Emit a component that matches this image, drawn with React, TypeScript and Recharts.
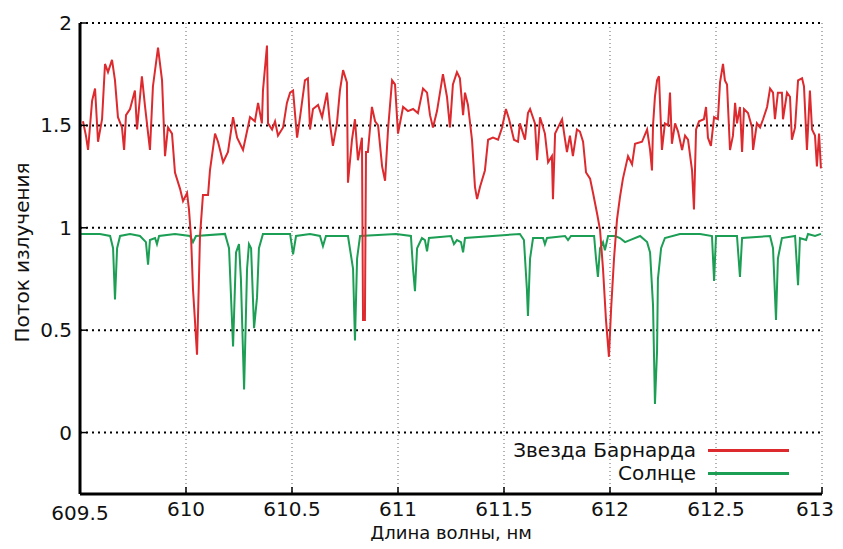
import { LineChart, Line, XAxis, YAxis, CartesianGrid, Legend } from "recharts";

// wavelength (nm) / flux for Barnard's star
const barnardX = [
  609.514, 609.528, 609.538, 609.557, 609.571, 609.585, 609.604, 609.618, 609.632, 609.651,
  609.665, 609.679, 609.698, 609.708, 609.717, 609.736, 609.759, 609.769, 609.792, 609.807,
  609.83, 609.844, 609.868, 609.887, 609.901, 609.915, 609.934, 609.948, 609.972, 609.986,
  610.005, 610.014, 610.024, 610.033, 610.042, 610.052, 610.061, 610.066, 610.08, 610.104,
  610.113, 610.137, 610.151, 610.175, 610.198, 610.222, 610.241, 610.269, 610.302, 610.325,
  610.34, 610.358, 610.363, 610.382, 610.387, 610.406, 610.42, 610.434, 610.458, 610.476,
  610.491, 610.505, 610.514, 610.524, 610.538, 610.561, 610.575, 610.585, 610.599, 610.623,
  610.642, 610.665, 610.679, 610.693, 610.712, 610.726, 610.741, 610.759, 610.764, 610.783,
  610.797, 610.811, 610.83, 610.835, 610.844, 610.849, 610.858, 610.877, 610.892, 610.906,
  610.925, 610.939, 610.953, 610.972, 610.986, 611.0, 611.024, 611.047, 611.071, 611.094,
  611.118, 611.137, 611.151, 611.165, 611.184, 611.212, 611.231, 611.245, 611.259, 611.278,
  611.292, 611.307, 611.316, 611.33, 611.349, 611.363, 611.373, 611.387, 611.41, 611.425,
  611.448, 611.472, 611.491, 611.509, 611.524, 611.547, 611.566, 611.575, 611.599, 611.613,
  611.623, 611.646, 611.656, 611.67, 611.693, 611.708, 611.726, 611.731, 611.741, 611.755,
  611.774, 611.788, 611.797, 611.811, 611.825, 611.844, 611.858, 611.873, 611.887, 611.906,
  611.92, 611.939, 611.953, 611.967, 611.981, 611.995, 612.005, 612.019, 612.033, 612.047,
  612.061, 612.085, 612.104, 612.118, 612.151, 612.175, 612.189, 612.198, 612.203, 612.212,
  612.222, 612.231, 612.241, 612.245, 612.259, 612.274, 612.283, 612.292, 612.307, 612.321,
  612.34, 612.354, 612.368, 612.387, 612.396, 612.406, 612.42, 612.443, 612.453, 612.462,
  612.476, 612.491, 612.509, 612.519, 612.533, 612.542, 612.552, 612.566, 612.58, 612.59,
  612.599, 612.613, 612.623, 612.632, 612.651, 612.67, 612.675, 612.693, 612.708, 612.722,
  612.741, 612.755, 612.769, 612.778, 612.792, 612.811, 612.816, 612.835, 612.849, 612.858,
  612.873, 612.887, 612.906, 612.915, 612.929, 612.943, 612.953, 612.967, 612.976, 612.986,
  612.995,
];
const barnardY = [
  1.52, 1.45, 1.38, 1.62, 1.68, 1.42, 1.53, 1.8, 1.76, 1.82,
  1.72, 1.54, 1.49, 1.38, 1.55, 1.58, 1.67, 1.48, 1.74, 1.59,
  1.38, 1.69, 1.88, 1.72, 1.35, 1.49, 1.46, 1.27, 1.19, 1.13,
  1.17, 1.09, 0.95, 0.7, 0.55, 0.38, 0.75, 0.96, 1.16, 1.16,
  1.28, 1.46, 1.42, 1.32, 1.37, 1.54, 1.44, 1.38, 1.54, 1.52,
  1.61, 1.51, 1.67, 1.89, 1.51, 1.48, 1.52, 1.45, 1.49, 1.61,
  1.66, 1.67, 1.56, 1.44, 1.54, 1.72, 1.73, 1.48, 1.58, 1.6,
  1.54, 1.66, 1.51, 1.4, 1.51, 1.67, 1.77, 1.71, 1.22, 1.43,
  1.53, 1.33, 1.44, 0.55, 0.55, 1.37, 1.37, 1.59, 1.52, 1.5,
  1.3, 1.23, 1.48, 1.72, 1.7, 1.46, 1.59, 1.57, 1.58, 1.56,
  1.68, 1.66, 1.55, 1.49, 1.57, 1.75, 1.64, 1.49, 1.7, 1.76,
  1.73, 1.55, 1.66, 1.6, 1.43, 1.2, 1.14, 1.2, 1.28, 1.43,
  1.44, 1.43, 1.49, 1.58, 1.53, 1.43, 1.42, 1.51, 1.43, 1.56,
  1.58, 1.51, 1.33, 1.54, 1.46, 1.32, 1.35, 1.14, 1.46, 1.49,
  1.53, 1.43, 1.37, 1.45, 1.35, 1.48, 1.47, 1.42, 1.27, 1.24,
  1.17, 1.07, 0.99, 0.8, 0.55, 0.37, 0.6, 0.85, 1.04, 1.15,
  1.24, 1.35, 1.31, 1.41, 1.42, 1.48, 1.38, 1.28, 1.5, 1.64,
  1.72, 1.74, 1.48, 1.38, 1.51, 1.5, 1.66, 1.41, 1.51, 1.47,
  1.38, 1.45, 1.43, 1.28, 1.09, 1.48, 1.52, 1.53, 1.59, 1.44,
  1.4, 1.54, 1.53, 1.71, 1.8, 1.72, 1.7, 1.38, 1.45, 1.61,
  1.51, 1.59, 1.37, 1.58, 1.56, 1.49, 1.38, 1.51, 1.49, 1.53,
  1.59, 1.68, 1.66, 1.53, 1.66, 1.66, 1.53, 1.66, 1.64, 1.43,
  1.49, 1.72, 1.73, 1.69, 1.38, 1.67, 1.48, 1.45, 1.3, 1.46,
  1.29,
];

// wavelength (nm) / flux for the Sun
const sunX = [
  609.505, 609.594, 609.642, 609.656, 609.665, 609.675, 609.689, 609.736, 609.783, 609.811,
  609.821, 609.83, 609.854, 609.863, 609.873, 609.948, 610.019, 610.033, 610.047, 610.184,
  610.203, 610.222, 610.236, 610.25, 610.259, 610.274, 610.288, 610.297, 610.307, 610.321,
  610.335, 610.344, 610.363, 610.491, 610.505, 610.519, 610.585, 610.632, 610.646, 610.66,
  610.764, 610.788, 610.797, 610.807, 610.821, 610.991, 611.061, 611.071, 611.08, 611.09,
  611.113, 611.127, 611.137, 611.146, 611.25, 611.264, 611.278, 611.297, 611.307, 611.316,
  611.575, 611.594, 611.608, 611.613, 611.623, 611.637, 611.684, 611.693, 611.703, 611.788,
  611.802, 611.816, 611.925, 611.934, 611.943, 611.953, 611.967, 611.976, 611.991, 612.024,
  612.047, 612.071, 612.094, 612.142, 612.175, 612.189, 612.203, 612.212, 612.222, 612.226,
  612.241, 612.259, 612.33, 612.425, 612.481, 612.491, 612.5, 612.599, 612.613, 612.623,
  612.755, 612.769, 612.783, 612.792, 612.811, 612.873, 612.887, 612.896, 612.925, 612.934,
  612.967, 612.995,
];
const sunY = [
  0.97, 0.97, 0.96, 0.9, 0.65, 0.9, 0.96, 0.97, 0.96, 0.93,
  0.82, 0.94, 0.95, 0.92, 0.96, 0.97, 0.96, 0.93, 0.96, 0.97,
  0.9, 0.42, 0.88, 0.92, 0.75, 0.21, 0.8, 0.92, 0.9, 0.51,
  0.66, 0.9, 0.97, 0.97, 0.87, 0.96, 0.97, 0.96, 0.91, 0.96,
  0.96, 0.8, 0.45, 0.85, 0.96, 0.97, 0.96, 0.8, 0.69, 0.9,
  0.95, 0.94, 0.885, 0.95, 0.96, 0.92, 0.94, 0.93, 0.88, 0.95,
  0.97, 0.94, 0.7, 0.57, 0.85, 0.95, 0.95, 0.92, 0.95, 0.96,
  0.94, 0.96, 0.96, 0.85, 0.76, 0.9, 0.93, 0.89, 0.96, 0.96,
  0.95, 0.93, 0.94, 0.96, 0.93, 0.88, 0.62, 0.14, 0.4, 0.75,
  0.9, 0.95, 0.97, 0.97, 0.96, 0.74, 0.96, 0.96, 0.76, 0.95,
  0.96, 0.9, 0.55, 0.85, 0.95, 0.96, 0.72, 0.95, 0.94, 0.97,
  0.96, 0.97,
];

const xTicks = [609.5, 610, 610.5, 611, 611.5, 612, 612.5, 613];
const yTicks = [0, 0.5, 1, 1.5, 2];
const seriesNames = ["Звезда Барнарда", "Солнце"];
const colors = ["#dc2a2e", "#1c9e55"];

const barnard = barnardX.map((x, i) => ({ x, y: barnardY[i] }));
const sun = sunX.map((x, i) => ({ x, y: sunY[i] }));

const font = "'DejaVu Sans', sans-serif";
const tickStyle = { fontSize: 20, fill: "#111", fontFamily: font };
const frame = { stroke: "#000", strokeWidth: 3 };
const tickLine = { stroke: "#000", strokeWidth: 1.5 };

// x tick: first label sits a bit lower, last one nudged in so it stays on the page
function XTick(props: any) {
  const { x, y, payload, index } = props;
  const last = index === xTicks.length - 1;
  return (
    <text
      x={x + (last ? -7 : 0)}
      y={y + (index === 0 ? 4 : 0)}
      dy="0.71em"
      textAnchor="middle"
      {...tickStyle}
    >
      {payload.value}
    </text>
  );
}

function LegendBox() {
  return (
    <div style={{ fontFamily: font, fontSize: 20, color: "#111", lineHeight: "23px" }}>
      {seriesNames.map((name, i) => (
        <div key={name} style={{ display: "flex", alignItems: "center" }}>
          <span style={{ width: 212, textAlign: "right" }}>{name}</span>
          <span
            style={{ marginLeft: 12, width: 81, height: 3, background: colors[i], display: "inline-block" }}
          />
        </div>
      ))}
    </div>
  );
}

export default function App() {
  // cancel the body margin so chart coords equal page coords
  return (
    <div style={{ margin: -8, width: 843, height: 549 }}>
      <LineChart width={843} height={549} margin={{ top: 23, right: 21, left: 20, bottom: 0 }}>
        <CartesianGrid horizontal={false} stroke="#666" strokeDasharray="1 3" />
        <CartesianGrid vertical={false} stroke="#000" strokeWidth={2} strokeDasharray="2 4" />
        <XAxis
          dataKey="x"
          type="number"
          domain={[609.5, 613]}
          ticks={xTicks}
          allowDataOverflow
          height={55}
          axisLine={frame}
          tickLine={tickLine}
          tickSize={-7}
          tickMargin={15}
          tick={<XTick />}
          interval={0}
          label={{
            value: "Длина волны, нм",
            position: "insideBottom",
            offset: 10,
            style: { fontSize: 18, fill: "#111", fontFamily: font },
          }}
        />
        <XAxis
          xAxisId="top"
          orientation="top"
          type="number"
          domain={[609.5, 613]}
          ticks={xTicks}
          height={0}
          axisLine={frame}
          tickLine={tickLine}
          tickSize={-7}
          tick={false}
        />
        <YAxis
          type="number"
          domain={[-0.3, 2]}
          ticks={yTicks}
          allowDataOverflow
          width={60}
          axisLine={frame}
          tickLine={tickLine}
          tickSize={-7}
          tickMargin={15}
          tick={tickStyle}
          interval={0}
          label={{
            value: "Поток излучения",
            angle: -90,
            position: "center",
            dx: -28,
            dy: -6,
            style: { fontSize: 20, fill: "#111", fontFamily: font },
          }}
        />
        <YAxis
          yAxisId="right"
          orientation="right"
          type="number"
          domain={[-0.3, 2]}
          ticks={yTicks}
          width={0}
          axisLine={frame}
          tickLine={tickLine}
          tickSize={-7}
          tick={false}
        />
        <Legend
          layout="vertical"
          align="center"
          verticalAlign="middle"
          content={<LegendBox />}
          wrapperStyle={{ left: 484, top: 439, width: 320, height: 46 }}
        />
        <Line
          data={sun}
          dataKey="y"
          name={seriesNames[1]}
          type="linear"
          stroke={colors[1]}
          strokeWidth={2}
          dot={false}
          isAnimationActive={false}
        />
        <Line
          data={barnard}
          dataKey="y"
          name={seriesNames[0]}
          type="linear"
          stroke={colors[0]}
          strokeWidth={2}
          dot={false}
          isAnimationActive={false}
        />
      </LineChart>
    </div>
  );
}
